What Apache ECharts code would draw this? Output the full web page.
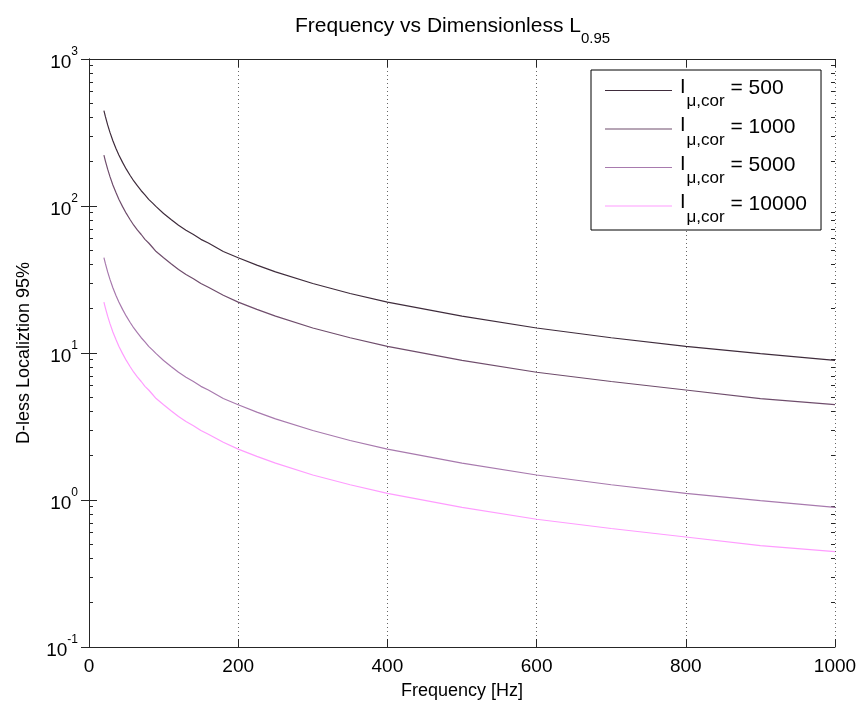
<!DOCTYPE html>
<html>
<head>
<meta charset="utf-8">
<script src="https://cdn.jsdelivr.net/npm/echarts@6/dist/echarts.min.js"></script>
<style>html,body{margin:0;padding:0;background:#fff;}#c{width:862px;height:709px;}</style>
</head>
<body>
<div id="c"></div>
<script>
// Frequencies [Hz]
const freq = [20, 22, 25, 28, 32, 36, 40, 45, 50, 55, 60, 65, 70, 75, 80, 85, 90, 100, 110, 120, 130, 140, 150, 160, 180, 200, 225, 250, 300, 350, 400, 500, 600, 700, 800, 900, 1000];
// D-less localization values
const s500   = [445, 405, 356, 318, 278, 247, 222, 198, 178, 162, 148, 137, 127, 119, 111, 105, 99, 89, 81, 74, 68.5, 64, 59.3, 56, 49, 44.5, 39.6, 35.6, 29.7, 25.4, 22.2, 17.8, 14.8, 12.7, 11.1, 9.9, 8.9];
const s1000  = [222, 202, 178, 159, 139, 124, 111, 99, 89, 81, 74, 68.5, 64, 59.3, 56, 52.4, 49, 44.5, 40.5, 37, 34.2, 32, 29.7, 28, 24.7, 22.2, 19.8, 17.8, 14.8, 12.7, 11.1, 8.9, 7.4, 6.4, 5.6, 4.9, 4.45];
const s5000  = [44.5, 40.5, 35.6, 31.8, 27.8, 24.7, 22.2, 19.8, 17.8, 16.2, 14.8, 13.7, 12.7, 11.9, 11.1, 10.5, 9.9, 8.9, 8.1, 7.4, 6.85, 6.4, 5.93, 5.6, 4.9, 4.45, 3.96, 3.56, 2.97, 2.54, 2.22, 1.78, 1.48, 1.27, 1.11, 0.99, 0.89];
const s10000 = [22.2, 20.2, 17.8, 15.9, 13.9, 12.4, 11.1, 9.9, 8.9, 8.1, 7.4, 6.85, 6.4, 5.93, 5.6, 5.24, 4.9, 4.45, 4.05, 3.7, 3.42, 3.2, 2.97, 2.8, 2.47, 2.22, 1.98, 1.78, 1.48, 1.27, 1.11, 0.89, 0.74, 0.64, 0.56, 0.49, 0.445];
const seriesNames = ['I μ,cor = 500', 'I μ,cor = 1000', 'I μ,cor = 5000', 'I μ,cor = 10000'];
const seriesColors = ['#3f2c3c', '#6f4d6c', '#a87aae', '#ff9cff'];
const xTicks = [0, 200, 400, 600, 800, 1000];
const yMajorTicks = [0.1, 1, 10, 100, 1000];
const yMinorTicks = [0.2,0.3,0.4,0.5,0.6,0.7,0.8,0.9, 2,3,4,5,6,7,8,9, 20,30,40,50,60,70,80,90, 200,300,400,500,600,700,800,900];

const FONT = '"Liberation Sans", Arial, Helvetica, sans-serif';
const AX = '#262626';
const allData = [s500, s1000, s5000, s10000];

const chart = echarts.init(document.getElementById('c'), null, {renderer: 'canvas'});

function yAxisBase(pos, showLabel, ticks, len) {
  return {
    type: 'log', logBase: 10, min: 0.1, max: 1000, position: pos,
    axisLine: {show: true, lineStyle: {color: AX, width: 1}},
    axisTick: {show: true, inside: true, length: len, lineStyle: {color: AX}, customValues: ticks},
    axisLabel: showLabel ? {
      show: true, margin: 11, fontFamily: FONT, color: '#000',
      customValues: yMajorTicks,
      formatter: v => '{b|10}{s|' + Math.round(Math.log10(v)) + '}',
      rich: {
        b: {fontSize: 19, fontFamily: FONT, color: '#000', lineHeight: 26, verticalAlign: 'bottom'},
        s: {fontSize: 12, fontFamily: FONT, color: '#000', lineHeight: 12, verticalAlign: 'top'}
      }
    } : {show: false},
    splitLine: {show: false},
    minorTick: {show: false}
  };
}

const option = {
  backgroundColor: '#fff',
  animation: false,
  textStyle: {fontFamily: FONT},
  title: {
    text: '{a|Frequency vs Dimensionless L}{s|0.95}',
    left: 290, top: 11,
    textStyle: {
      fontWeight: 'normal',
      rich: {
        a: {fontSize: 21, fontWeight: 'normal', fontFamily: FONT, color: '#000', lineHeight: 30, verticalAlign: 'top'},
        s: {fontSize: 15, fontWeight: 'normal', fontFamily: FONT, color: '#000', lineHeight: 16, verticalAlign: 'bottom'}
      }
    }
  },
  grid: {left: 89, top: 59, width: 746, height: 588, show: false},
  legend: {
    show: true, orient: 'vertical', left: 591, top: 70,
    padding: [5, 14, 3.5, 14], itemGap: 2.5,
    itemWidth: 67, itemHeight: 1.2, icon: 'rect',
    borderColor: '#000', borderWidth: 1, backgroundColor: '#fff', borderRadius: 0,
    data: seriesNames,
    formatter: name => {
      const val = name.split('= ')[1];
      return '{i|I}{s|μ,cor}{t| = ' + val + '}';
    },
    textStyle: {
      rich: {
        i: {fontSize: 20, fontFamily: FONT, color: '#000', lineHeight: 25, verticalAlign: 'top', padding: [2, 1, 0, 3]},
        s: {fontSize: 17, fontFamily: FONT, color: '#000', lineHeight: 18, verticalAlign: 'top', padding: [18, 0, 1, 0]},
        t: {fontSize: 21, fontFamily: FONT, color: '#000', lineHeight: 31, verticalAlign: 'top', padding: [3, 0, 0, 0]}
      }
    }
  },
  xAxis: [
    {
      type: 'value', min: 0, max: 1000, interval: 200, position: 'bottom',
      name: 'Frequency [Hz]', nameLocation: 'middle', nameGap: 35,
      nameTextStyle: {fontSize: 18, fontFamily: FONT, color: '#000'},
      axisLine: {show: true, onZero: false, lineStyle: {color: AX}},
      axisTick: {show: true, inside: true, length: 8, lineStyle: {color: AX}},
      axisLabel: {show: true, fontSize: 19, fontFamily: FONT, color: '#000', margin: 10, formatter: v => String(v)},
      splitLine: {show: true, lineStyle: {color: '#666', type: [1, 3], width: 1}}
    },
    {
      type: 'value', min: 0, max: 1000, interval: 200, position: 'top',
      axisLine: {show: true, onZero: false, lineStyle: {color: AX}},
      axisTick: {show: true, inside: true, length: 8, lineStyle: {color: AX}},
      axisLabel: {show: false}, splitLine: {show: false}
    }
  ],
  yAxis: [
    Object.assign(yAxisBase('left', true, yMajorTicks, 8), {
      name: 'D-less Localiztion 95%', nameLocation: 'middle', nameGap: 56,
      nameTextStyle: {fontSize: 18, fontFamily: FONT, color: '#000'}
    }),
    yAxisBase('right', false, yMajorTicks, 8),
    Object.assign(yAxisBase('left', false, yMinorTicks, 4), {axisLine: {show: false}}),
    Object.assign(yAxisBase('right', false, yMinorTicks, 4), {axisLine: {show: false}})
  ],
  series: allData.map((d, i) => ({
    name: seriesNames[i], type: 'line', xAxisIndex: 0, yAxisIndex: 0,
    data: freq.map((f, j) => [f, d[j]]),
    symbol: 'none', smooth: false,
    lineStyle: {color: seriesColors[i], width: 1.2},
    itemStyle: {color: seriesColors[i]}
  }))
};
chart.setOption(option);
</script>
</body>
</html>
